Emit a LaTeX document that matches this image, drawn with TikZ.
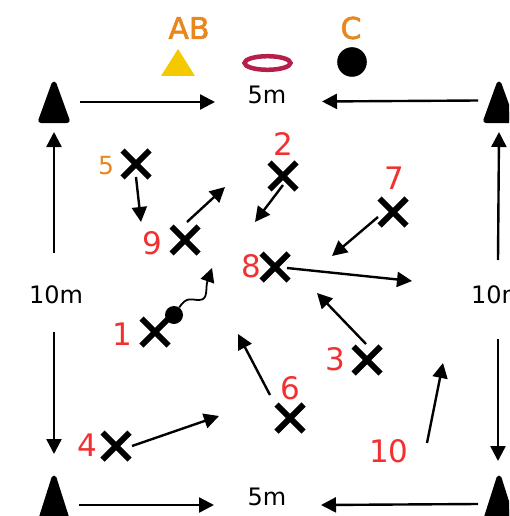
\documentclass[tikz,border=0pt]{standalone}
\usepackage{fontspec}
\setmainfont{DejaVu Sans}
\newfontfamily\grpfont[FakeBold=2]{DejaVu Sans}
\usetikzlibrary{arrows.meta,shapes.misc,shapes.geometric}
\definecolor{numred}{HTML}{F23030}
\definecolor{lblorange}{HTML}{E8871E}
\definecolor{ringred}{HTML}{B5204A}
\definecolor{triyellow}{HTML}{F4C900}
\tikzset{
  x=1pt,y=-1pt,
  player/.style={cross out,draw=black,line width=6pt,minimum size=27pt,inner sep=0pt,outer sep=0pt},
  num/.style={text=numred,font=\fontsize{31}{31}\selectfont,inner sep=0pt},
  dist/.style={text=black,font=\fontsize{24}{24}\selectfont,inner sep=0pt},
  grp/.style={text=lblorange,font=\fontsize{30}{30}\grpfont,inner sep=0pt},
  arr/.style={draw=black,line width=2.4pt,-{Triangle[length=15pt,width=15pt]}},
  cone/.style={fill=black,draw=black,line width=5pt,line join=round},
}
\begin{document}
\begin{tikzpicture}
\clip (0,0) rectangle (509,516);
\useasboundingbox (0,0) rectangle (509,516);
% cones
\draw[cone] (54,84) -- (67.2,120.5) -- (40.8,120.5) -- cycle;
\draw[cone] (499,84) -- (512.2,120.5) -- (485.8,120.5) -- cycle;
\draw[cone] (54,478) -- (68,522) -- (40,522) -- cycle;
\draw[cone] (499,478) -- (513,522) -- (485,522) -- cycle;
% equipment
\node[grp] (ab) at (189,28) {AB};
\node[grp] (c) at (351,28) {C};
\fill[triyellow] (178,49) -- (195,76) -- (161,76) -- cycle;
\draw[ringred,line width=4.5pt] (267.5,63) ellipse [x radius=23,y radius=6.8];
\fill[black] (352,62) circle [radius=14.8];
% distance labels
\node[dist] (dt) at (267,95) {5m};
\node[dist] (db) at (267,497) {5m};
\node[dist] (dl) at (56,295) {10m};
\node[dist] (dr) at (498,295) {10m};
% field arrows
\coordinate (a1) at (80,102); \coordinate (a2) at (215,102);
\coordinate (b1) at (478,100.5); \coordinate (b2) at (322,101.5);
\coordinate (c1) at (54,253); \coordinate (c2) at (54,132);
\coordinate (d1) at (54,332); \coordinate (d2) at (54,454);
\coordinate (e1) at (498,260); \coordinate (e2) at (499,132);
\coordinate (f1) at (498,339); \coordinate (f2) at (498,461);
\coordinate (g1) at (79,505); \coordinate (g2) at (214,505);
\coordinate (h1) at (478,504); \coordinate (h2) at (321,505);
\foreach \s/\t in {a1/a2,b1/b2,c1/c2,d1/d2,e1/e2,f1/f2,g1/g2,h1/h2}
  \draw[arr] (\s) -- (\t);
% players
\node[player] (p1) at (155,332) {};
\node[player] (p2) at (283,176) {};
\node[player] (p3) at (367,360) {};
\node[player] (p4) at (116,446) {};
\node[player] (p5) at (136,164) {};
\node[player] (p6) at (290,418) {};
\node[player] (p7) at (393,212) {};
\node[player] (p8) at (275,267) {};
\node[player] (p9) at (185,240) {};
\node[num] (n1) at (122,334) {1};
\node[num] (n2) at (283,144) {2};
\node[num] (n3) at (335,359) {3};
\node[num] (n4) at (87,445) {4};
\node[text=lblorange,font=\fontsize{25}{25}\selectfont,inner sep=0pt] (n5) at (106,166) {5};
\node[num] (n6) at (290,388) {6};
\node[num] (n7) at (394,178) {7};
\node[num] (n8) at (251,266) {8};
\node[num] (n9) at (152,243) {9};
\node[num] (n10) at (389,451) {10};
% player runs
\coordinate (s5) at (136,177); \coordinate (t5) at (141,222);
\coordinate (s9) at (187,222); \coordinate (t9) at (225,187);
\coordinate (s2) at (283,185); \coordinate (t2) at (255,222);
\coordinate (s7) at (378,217); \coordinate (t7) at (332,256);
\coordinate (s8) at (287,268); \coordinate (t8) at (412,281);
\coordinate (s3) at (366,344); \coordinate (t3) at (317,293);
\coordinate (s6) at (270,395); \coordinate (t6) at (238,334);
\coordinate (s4) at (132,446); \coordinate (t4) at (219,416);
\coordinate (s10) at (427,443); \coordinate (t10) at (443,363);
\foreach \s/\t in {s5/t5,s9/t9,s2/t2,s7/t7,s8/t8,s3/t3,s6/t6,s4/t4,s10/t10}
  \draw[arr] (\s) -- (\t);
% dribble
\node[circle,fill=black,minimum size=18pt,inner sep=0pt] (ball) at (174,315) {};
\draw[black,line width=3.5pt] (p1.center) -- (ball);
\coordinate (t1) at (212,268);
\draw[draw=black,line width=1.8pt,-{Triangle[length=14pt,width=14pt]}]
  (ball) .. controls (187,296) and (191,300) .. (199,300)
  .. controls (209,300) and (205,288) .. (t1);
\end{tikzpicture}
\end{document}
